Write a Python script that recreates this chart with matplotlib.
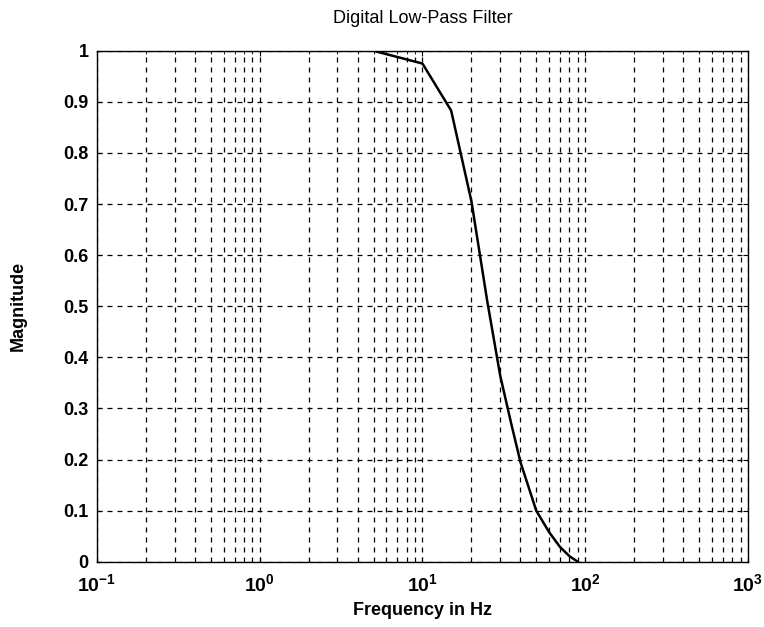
import numpy as np
import matplotlib
matplotlib.use("Agg")
import matplotlib.pyplot as plt
from matplotlib.ticker import LogLocator, FixedLocator, FuncFormatter

# frequency response
freq_hz = [5, 10, 15, 20, 25, 30, 35, 40, 45, 50, 60, 70, 80, 90]
magnitude = [1.0, 0.975, 0.883, 0.705, 0.51, 0.365, 0.272, 0.195, 0.145, 0.10, 0.058, 0.029, 0.011, 0.0]

y_ticks = [0, 0.1, 0.2, 0.3, 0.4, 0.5, 0.6, 0.7, 0.8, 0.9, 1]

plt.rcParams['font.family'] = ['Liberation Sans', 'DejaVu Sans']
plt.rcParams['mathtext.fontset'] = 'custom'
plt.rcParams['mathtext.rm'] = 'Liberation Sans'
plt.rcParams['mathtext.bf'] = 'Liberation Sans:bold'

fig = plt.figure(figsize=(7.64, 6.27), dpi=100)
ax = fig.add_axes([0.127, 0.104, 0.852, 0.815])

ax.semilogx(freq_hz, magnitude, color="black", linewidth=1.8)

ax.set_xlim(0.1, 1000)
ax.set_ylim(0, 1)
ax.xaxis.set_major_locator(LogLocator(base=10))
ax.xaxis.set_minor_locator(LogLocator(base=10, subs=np.arange(2, 10)))
ax.xaxis.set_major_formatter(FuncFormatter(lambda v, p: r"$\mathbf{10^{%d}}$" % round(np.log10(v))))
ax.yaxis.set_major_locator(FixedLocator(y_ticks))
ax.yaxis.set_major_formatter(FuncFormatter(lambda v, p: f"{v:g}"))

ax.grid(True, which="major", color="black", linestyle=(0, (4, 4)), linewidth=0.9)
ax.grid(True, which="minor", axis="x", color="black", linestyle=(0, (4, 4)), linewidth=0.9)
ax.tick_params(which="both", direction="in", top=True, right=True, labelsize=13)
ax.tick_params(axis="x", which="major", pad=8, labelsize=14)
ax.tick_params(axis="y", which="major", pad=6)
ax.tick_params(which="minor", labelbottom=False)
for lab in ax.get_yticklabels():
    lab.set_fontweight("bold")
for s in ax.spines.values():
    s.set_linewidth(1.0)

ax.set_title("Digital Low-Pass Filter", fontsize=13, pad=20)
ax.set_xlabel("Frequency in Hz", fontsize=13, fontweight="bold", labelpad=5)
ax.set_ylabel("Magnitude", fontsize=13, fontweight="bold")
ax.yaxis.set_label_coords(-0.108, 0.5)

fig.savefig("out.png", dpi=100)
